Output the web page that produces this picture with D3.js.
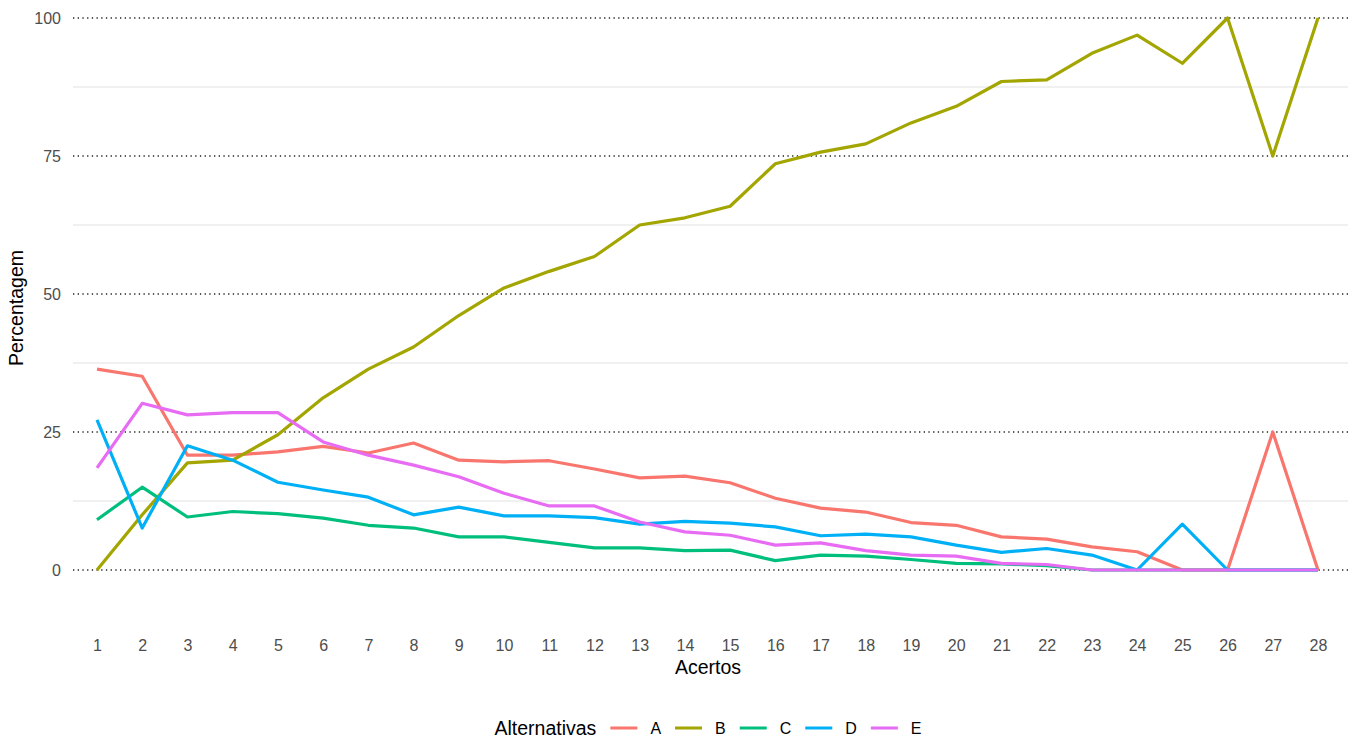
<!DOCTYPE html>
<html>
<head>
<meta charset="utf-8">
<script src="https://cdn.jsdelivr.net/npm/d3@7"></script>
<style>
  html, body { margin: 0; padding: 0; background: #fff; }
  svg { display: block; font-family: "Liberation Sans", Arial, sans-serif; }
</style>
</head>
<body>
<svg id="chart" width="1354" height="745"></svg>
<script>
// Number of correct answers (Acertos)
const acertos = [1,2,3,4,5,6,7,8,9,10,11,12,13,14,15,16,17,18,19,20,21,22,23,24,25,26,27,28];

// Percentage choosing each alternative, per number of correct answers
const serieA = [36.4,35.1,20.8,20.8,21.4,22.4,21.2,23.0,19.9,19.6,19.8,18.3,16.7,17.0,15.8,13.0,11.2,10.5,8.6,8.1,6.0,5.6,4.2,3.3,0,0,25,0];
const serieB = [0,10.0,19.4,19.9,24.5,31.2,36.4,40.4,46.1,51.1,54.1,56.8,62.5,63.8,65.9,73.6,75.7,77.2,81.0,84.0,88.5,88.8,93.6,96.9,91.8,100,75,100];
const serieC = [9.1,15.0,9.6,10.6,10.2,9.4,8.1,7.6,6.0,6.0,5.0,4.0,4.0,3.5,3.6,1.7,2.7,2.5,1.9,1.2,1.1,0.8,0,0,0,0,0,0];
const serieD = [27.2,7.6,22.5,19.9,15.9,14.5,13.2,10.0,11.4,9.8,9.8,9.5,8.3,8.8,8.5,7.8,6.2,6.5,6.0,4.5,3.2,3.9,2.7,0,8.3,0,0,0];
const serieE = [18.5,30.2,28.1,28.5,28.5,23.2,20.8,19.0,16.9,13.9,11.6,11.6,8.7,6.9,6.3,4.5,4.9,3.5,2.7,2.5,1.2,1.0,0,0,0,0,0,0];

const alternativas = ["A","B","C","D","E"];
const cores = ["#F8766D","#A3A500","#00BF7D","#00B0F6","#E76BF3"];
const yMajor = [0,25,50,75,100];
const yMinor = [12.5,37.5,62.5,87.5];

const series = [serieA, serieB, serieC, serieD, serieE].map((vals, i) => ({
  nome: alternativas[i],
  cor: cores[i],
  pontos: acertos.map((a, j) => ({ x: a, y: vals[j] }))
}));

const svg = d3.select("#chart");
const panel = { left: 73, right: 1348 };

const x = d3.scaleLinear().domain([1, 28]).range([97, 1318]);
const y = d3.scaleLinear().domain([0, 100]).range([570, 18]);

// minor grid
svg.append("g").selectAll("line").data(yMinor).join("line")
  .attr("x1", panel.left).attr("x2", panel.right)
  .attr("y1", d => y(d)).attr("y2", d => y(d))
  .attr("stroke", "#ebebeb").attr("stroke-width", 1.4);

// major grid (dotted)
svg.append("g").selectAll("line").data(yMajor).join("line")
  .attr("x1", panel.left).attr("x2", panel.right)
  .attr("y1", d => y(d)).attr("y2", d => y(d))
  .attr("stroke", "#222").attr("stroke-width", 1.3)
  .attr("stroke-dasharray", "1.3,3.4");

// y axis labels
const yAxis = d3.axisLeft(y).tickValues(yMajor).tickSize(0).tickPadding(0);
const gy = svg.append("g").attr("transform", "translate(61,0)").call(yAxis);
gy.select(".domain").remove();
gy.selectAll("text").attr("fill", "#4d4d4d").style("font-size", "16px")
  .style("font-family", "'Liberation Sans', Arial, sans-serif");

// x axis labels
const xAxis = d3.axisBottom(x).tickValues(acertos).tickFormat(d3.format("d")).tickSize(0).tickPadding(0);
const gx = svg.append("g").attr("transform", "translate(0,640)").call(xAxis);
gx.select(".domain").remove();
gx.selectAll("text").attr("fill", "#4d4d4d").style("font-size", "16px")
  .style("font-family", "'Liberation Sans', Arial, sans-serif");

// axis titles
svg.append("text")
  .attr("x", 708).attr("y", 674)
  .attr("text-anchor", "middle")
  .style("font-size", "19.5px").attr("fill", "#000")
  .text("Acertos");

svg.append("text")
  .attr("transform", "translate(23,308) rotate(-90)")
  .attr("text-anchor", "middle")
  .style("font-size", "19.5px").attr("fill", "#000")
  .text("Percentagem");

// lines
const linha = d3.line().x(d => x(d.x)).y(d => y(d.y));
svg.append("g").selectAll("path").data(series).join("path")
  .attr("d", d => linha(d.pontos))
  .attr("fill", "none")
  .attr("stroke", d => d.cor)
  .attr("stroke-width", 3.2)
  .attr("stroke-linejoin", "round");

// legend
const leg = svg.append("g");
const titulo = leg.append("text")
  .attr("x", 0).attr("y", 735)
  .style("font-size", "19.5px").attr("fill", "#000")
  .text("Alternativas");
let cursor = titulo.node().getComputedTextLength() + 14;
series.forEach(s => {
  leg.append("line")
    .attr("x1", cursor).attr("x2", cursor + 27)
    .attr("y1", 728).attr("y2", 728)
    .attr("stroke", s.cor).attr("stroke-width", 3);
  const t = leg.append("text")
    .attr("x", cursor + 40).attr("y", 734)
    .style("font-size", "16px").attr("fill", "#000")
    .text(s.nome);
  cursor = cursor + 40 + t.node().getComputedTextLength() + 14;
});
const larguraLeg = cursor - 14;
leg.attr("transform", `translate(${708 - larguraLeg / 2},0)`);
</script>
</body>
</html>
